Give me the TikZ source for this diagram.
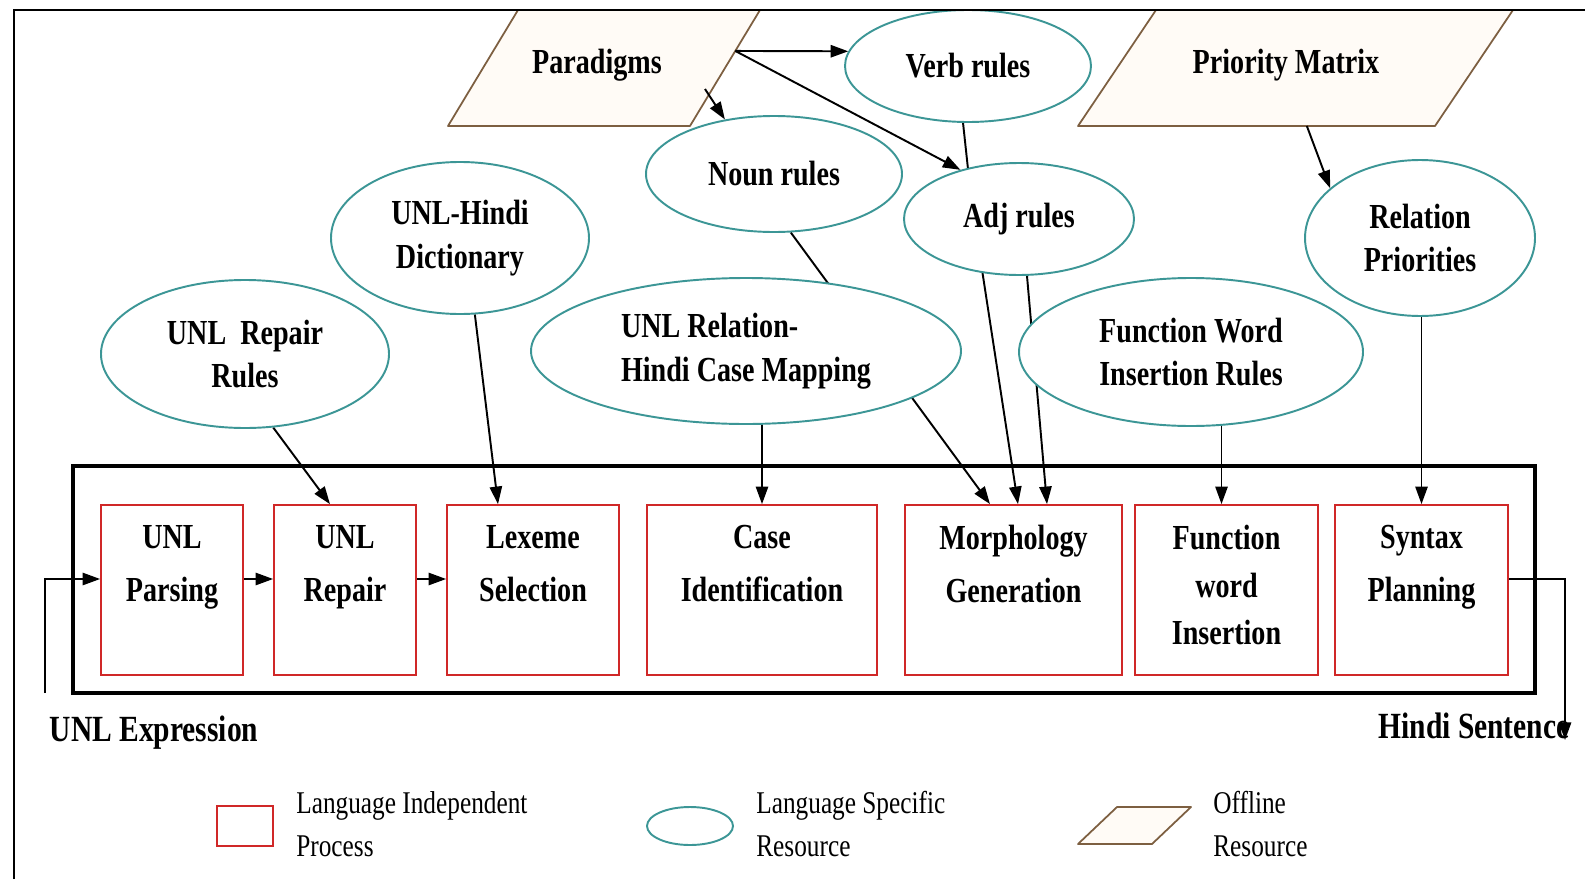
\documentclass[tikz,border=0pt]{standalone}
\usepackage{fontspec}
\setmainfont{Liberation Serif}[FakeStretch=0.8]
\usetikzlibrary{shapes.geometric,arrows.meta,calc}
\pgfdeclarelayer{back}
\pgfsetlayers{back,main}
\definecolor{procred}{RGB}{208,40,40}
\definecolor{resteal}{RGB}{60,150,150}
\definecolor{offbrown}{RGB}{125,95,65}
\definecolor{offfill}{RGB}{255,251,246}

\begin{document}
\begin{tikzpicture}[x=0.02cm,y=-0.02cm,
  res/.style 2 args={ellipse, draw=resteal, line width=1.1pt, fill=white,
    minimum width=#1*0.02cm, minimum height=#2*0.02cm, inner sep=0pt,
    align=center, font=\bfseries\fontsize{20}{25}\selectfont},
  proc/.style={draw=procred, line width=1pt, fill=white,
    minimum width=#1*0.02cm, minimum height=170*0.02cm, inner sep=0pt},
  proctext/.style={anchor=north, inner sep=0pt, align=center,
    font=\bfseries\fontsize{20}{30}\selectfont},
  offline/.style={draw=offbrown, line width=1pt, fill=offfill, line join=round},
  lbl/.style={inner sep=0pt, font=\bfseries\fontsize{20}{25}\selectfont},
  iolbl/.style={inner sep=0pt, font=\bfseries\fontsize{21}{25}\selectfont},
  conn/.style={line width=1.1pt, -{Triangle[length=10pt,width=7pt]}},
  legend/.style={anchor=west, inner sep=0pt, align=left,
    font=\fontsize{18}{24.5}\selectfont},
  ]
\useasboundingbox (0,0) rectangle (1585,879);

% offline resources (parallelograms)
\coordinate (pdTL) at (518,10);  \coordinate (pdTR) at (760,10);
\coordinate (pdBR) at (690,126); \coordinate (pdBL) at (448,126);
\coordinate (pmTL) at (1156,10); \coordinate (pmTR) at (1513,10);
\coordinate (pmBR) at (1435,126); \coordinate (pmBL) at (1078,126);
\node[lbl] (pd) at (597,65) {Paradigms};
\node[lbl] (pm) at (1286,65) {Priority Matrix};

% language specific resources
\node[res={246}{112}] (verb) at (968,66) {Verb rules};
\node[res={256}{116}] (noun) at (774,174) {Noun rules};
\node[res={230}{112}] (adj) at (1019,219) {Adj rules};
\node[res={258}{152}] (dict) at (460,238) {UNL-Hindi\\Dictionary};
\node[res={230}{156}] (rel) at (1420,238) {Relation\\Priorities};
\node[res={288}{148}] (rep) at (245,354) {UNL\ \ Repair\\Rules};
\node[res={430}{146}, align=left] (cmap) at (746,351) {UNL Relation-\\Hindi Case Mapping};
\node[res={344}{148}] (fw) at (1191,352) {Function Word\\Insertion Rules};

% pipeline container
\node[draw, line width=2.3pt, minimum width=1462*0.02cm, minimum height=227*0.02cm,
  inner sep=0pt] (pipe) at (804,579.5) {};

% language independent processes
\node[proc=142] (b1) at (172,590) {};
\node[proc=142] (b2) at (345,590) {};
\node[proc=172] (b3) at (533,590) {};
\node[proc=230] (b4) at (762,590) {};
\node[proc=217] (b5) at (1013.5,590) {};
\node[proc=183] (b6) at (1226.5,590) {};
\node[proc=173] (b7) at (1421.5,590) {};
\node[proctext] (t1) at ([shift={(0,21)}]b1.north) {UNL\\Parsing};
\node[proctext] (t2) at ([shift={(0,21)}]b2.north) {UNL\\Repair};
\node[proctext] (t3) at ([shift={(0,21)}]b3.north) {Lexeme\\Selection};
\node[proctext] (t4) at ([shift={(0,21)}]b4.north) {Case\\Identification};
\node[proctext] (t5) at ([shift={(0,21)}]b5.north) {Morphology\\Generation};
\node[proctext, font=\bfseries\fontsize{20}{27}\selectfont] (t6)
  at ([shift={(0,21)}]b6.north) {Function\\word\\Insertion};
\node[proctext] (t7) at ([shift={(0,21)}]b7.north) {Syntax\\Planning};

% connector end points
\coordinate (pdOut) at ($(pdTR)!0.353!(pdBR)$);
\coordinate (pdN) at (705,89);
\coordinate (pmOut) at ($(pmBL)!0.641!(pmBR)$);
\coordinate (b6in) at ([shift={(-5,0)}]b6.north);
\coordinate (uin) at (45,693);
\coordinate (hout) at (1565,740);
\coordinate (b1w) at ([shift={(0,-11)}]b1.west);
\coordinate (b1e) at ([shift={(0,-11)}]b1.east);
\coordinate (b2w) at ([shift={(0,-11)}]b2.west);
\coordinate (b2e) at ([shift={(0,-11)}]b2.east);
\coordinate (b3w) at ([shift={(0,-11)}]b3.west);
\coordinate (b7e) at ([shift={(0,-11)}]b7.east);

\begin{pgfonlayer}{back}
  \draw[offline] (pdTL) -- (pdTR) -- (pdBR) -- (pdBL) -- cycle;
  \draw[offline] (pmTL) -- (pmTR) -- (pmBR) -- (pmBL) -- cycle;
  % offline resources feed the rule sets
  \draw[conn] (pdOut) -- (verb.173);
  \draw[conn] (pdOut) -- (adj.140);
  \draw[conn] (pdN) -- (noun.132);
  \draw[conn] (pmOut) -- (rel.151);
  % rule sets feed the processes
  \draw[conn] (rep.-69) -- ([shift={(-15,0)}]b2.north);
  \draw[conn] (dict.-79) -- ([shift={(-35,0)}]b3.north);
  \draw[conn] (b4.north |- cmap.center) -- (b4.north);
  \draw[conn] (noun.-74) -- ([shift={(-23.5,0)}]b5.north);
  \draw[conn] (adj.-124) -- ([shift={(4.5,0)}]b5.north);
  \draw[conn] (verb.-95) -- (adj.135) -- (adj.-82) -- ([shift={(33.5,0)}]b5.north);
  \draw[conn] (b6in |- fw.center) -- (b6in);
  \draw[conn] (b7.north |- rel.center) -- (b7.north);
  % main pipeline
  \draw[conn] (uin) |- (b1w);
  \draw[conn] (b1e) -- (b2w);
  \draw[conn] (b2e) -- (b3w);
  \draw[conn] (b7e) -| (hout);
\end{pgfonlayer}

% input and output
\node[iolbl] (uexp) at (154,733) {UNL Expression};
\node[iolbl] (hsent) at (1474,726) {Hindi Sentence};

% legend
\node[draw=procred, line width=1pt, minimum width=56*0.02cm, minimum height=40*0.02cm,
  inner sep=0pt] (legp) at (245,826) {};
\node[legend] (legpt) at (296,824) {Language Independent\\Process};
\node[ellipse, draw=resteal, line width=1.1pt, minimum width=86*0.02cm,
  minimum height=38*0.02cm, inner sep=0pt] (legr) at (690,826) {};
\node[legend] (legrt) at (756,824) {Language Specific\\Resource};
\draw[offline] (1078,844) -- (1152,844) -- (1191,807) -- (1117,807) -- cycle;
\node[legend] (legot) at (1213,824) {Offline\\Resource};

% outer frame
\draw[line width=1.6pt] (14,879) -- (14,10) -- (1585,10);
\end{tikzpicture}
\end{document}
